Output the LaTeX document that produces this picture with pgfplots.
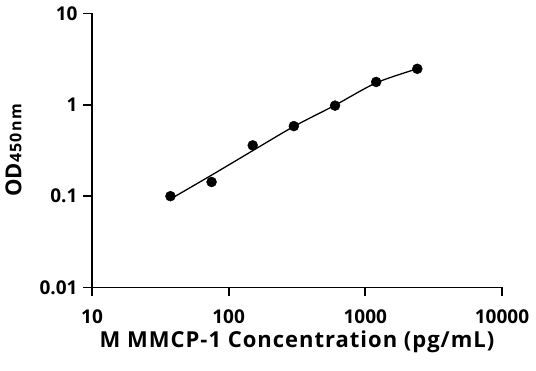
\documentclass[border=0pt]{standalone}
\usepackage{fontspec}
\setmainfont{Open Sans}
\usepackage{pgfplots}
\pgfplotsset{compat=1.18}
\begin{document}
\begin{tikzpicture}
\begin{axis}[name=ax, at={(0,0)}, anchor=south west,
  scale only axis, width=410pt, height=274pt,
  xmode=log, ymode=log, xmin=10, xmax=10000, ymin=0.01, ymax=10,
  axis x line*=bottom, axis y line*=left,
  axis line style={line width=1.8pt, line cap=rect},
  tick align=outside, major tick length=9pt,
  every tick/.style={black, line width=1.8pt},
  xminorticks=false, yminorticks=false,
  xtick={10,100,1000,10000}, xticklabels={10,100,1000,10000},
  ytick={0.01,0.1,1,10}, yticklabels={0.01,0.1,1,10},
  tick label style={font=\fontsize{19}{19}\selectfont\bfseries},
  xticklabel style={yshift=-10pt},
  yticklabel style={xshift=-2pt},
  xlabel={M MMCP-1 Concentration (pg/mL)},
  xlabel style={at={(axis description cs:0.5,-0.2208)}, anchor=base,
    font=\fontsize{22}{22}\selectfont\bfseries\addfontfeature{LetterSpace=4.5}},
  ylabel={OD{\fontsize{16}{16}\selectfont\addfontfeature{LetterSpace=8}450nm}},
  ylabel style={at={(axis description cs:-0.172,0.5)}, anchor=base,
    font=\fontsize{22}{22}\selectfont\bfseries},
  clip=false,
]
\addplot[black, line width=1.3pt, smooth] coordinates {
(37.5,0.093) (75,0.17) (150,0.315) (300,0.58) (600,0.99) (1200,1.74) (2400,2.48)
};
\addplot[only marks, mark=*, mark size=5pt, black] coordinates {
(37.5,0.1) (75,0.143) (150,0.36) (300,0.585) (600,0.98) (1200,1.78) (2400,2.48)
};
\end{axis}
\pgfresetboundingbox
\path (-92pt,-83.5pt) rectangle (444pt,287.5pt);
\end{tikzpicture}
\end{document}
